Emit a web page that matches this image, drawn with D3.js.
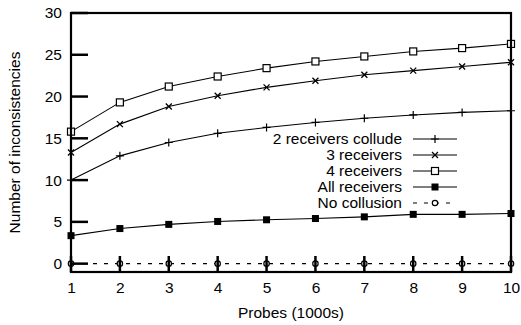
<!DOCTYPE html>
<html>
<head>
<meta charset="utf-8">
<script src="https://cdn.jsdelivr.net/npm/d3@7"></script>
<style>
  html, body { margin: 0; padding: 0; background: #fff; }
  text { font-family: "Liberation Sans", Arial, sans-serif; fill: #000; }
</style>
</head>
<body>
<svg id="chart" width="521" height="325"></svg>
<script>
// Probe counts (thousands)
const probes = [1, 2, 3, 4, 5, 6, 7, 8, 9, 10];

// Inconsistencies detected per collusion scenario
const twoCollude   = [10.0, 12.9, 14.5, 15.6, 16.3, 16.9, 17.4, 17.8, 18.1, 18.3];
const threeRecv    = [13.3, 16.7, 18.8, 20.1, 21.1, 21.9, 22.6, 23.1, 23.6, 24.1];
const fourRecv     = [15.8, 19.3, 21.2, 22.4, 23.4, 24.2, 24.8, 25.4, 25.8, 26.3];
const allRecv      = [3.35, 4.2, 4.7, 5.05, 5.25, 5.4, 5.6, 5.9, 5.9, 6.0];
const noCollusion  = [0, 0, 0, 0, 0, 0, 0, 0, 0, 0];

const seriesNames = ["2 receivers collude", "3 receivers", "4 receivers", "All receivers", "No collusion"];
const xTicks = [1, 2, 3, 4, 5, 6, 7, 8, 9, 10];
const yTicks = [0, 5, 10, 15, 20, 25, 30];

const series = [
  { name: seriesNames[0], values: twoCollude,  marker: "plus",   dash: null },
  { name: seriesNames[1], values: threeRecv,   marker: "cross",  dash: null },
  { name: seriesNames[2], values: fourRecv,    marker: "square", dash: null },
  { name: seriesNames[3], values: allRecv,     marker: "filled", dash: null },
  { name: seriesNames[4], values: noCollusion, marker: "circle", dash: "4,7" }
];

const FS = 15.5;
const svg = d3.select("#chart");
const mLeft = 71, mRight = 511, mTop = 13, mBottom = 272;

const x = d3.scaleLinear().domain([1, 10]).range([mLeft, mRight]);
const y = d3.scaleLinear().domain([-1, 30]).range([mBottom, mTop]);

// Tick labels (tick marks are drawn later, on top of the data)
const xAxis = d3.axisBottom(x).tickValues(xTicks).tickSize(0).tickPadding(10).tickFormat(d3.format("d"));
const yAxis = d3.axisLeft(y).tickValues(yTicks).tickSize(0).tickPadding(9).tickFormat(d3.format("d"));

const gx = svg.append("g").attr("transform", `translate(0,${mBottom})`).call(xAxis);
const gy = svg.append("g").attr("transform", `translate(${mLeft},0)`).call(yAxis);
[gx, gy].forEach(g => {
  g.select(".domain").remove();
  g.selectAll(".tick line").remove();
  g.selectAll(".tick text").attr("font-size", FS).attr("font-family", "Liberation Sans, Arial, sans-serif");
});
gx.selectAll(".tick text").attr("dy", "0.71em");

// Series lines
const line = d3.line().x((d, i) => x(probes[i])).y(d => y(d));

function drawMarker(g, type, cx, cy) {
  if (type === "plus") {
    g.append("path").attr("d", `M${cx - 4},${cy}H${cx + 4}M${cx},${cy - 4}V${cy + 4}`)
      .attr("stroke", "#000").attr("stroke-width", 1.2);
  } else if (type === "cross") {
    g.append("path").attr("d", `M${cx - 3},${cy - 3}L${cx + 3},${cy + 3}M${cx - 3},${cy + 3}L${cx + 3},${cy - 3}`)
      .attr("stroke", "#000").attr("stroke-width", 1.3);
  } else if (type === "square") {
    g.append("rect").attr("x", cx - 3.5).attr("y", cy - 3.5).attr("width", 7).attr("height", 7)
      .attr("fill", "#fff").attr("stroke", "#000").attr("stroke-width", 1.2);
  } else if (type === "filled") {
    g.append("rect").attr("x", cx - 3.5).attr("y", cy - 3.5).attr("width", 7).attr("height", 7)
      .attr("fill", "#000");
  } else if (type === "circle") {
    g.append("circle").attr("cx", cx).attr("cy", cy).attr("r", 2.7)
      .attr("fill", "#fff").attr("stroke", "#000").attr("stroke-width", 1.2);
  }
}

const plot = svg.append("g");
series.forEach(s => {
  plot.append("path").datum(s.values).attr("d", line)
    .attr("fill", "none").attr("stroke", "#000").attr("stroke-width", 1.1)
    .attr("stroke-dasharray", s.dash);
});
series.forEach(s => {
  const g = plot.append("g");
  s.values.forEach((v, i) => drawMarker(g, s.marker, x(probes[i]), y(v)));
});

// Inward tick marks on the left and bottom edges
const ticks = svg.append("g");
xTicks.forEach(d => {
  ticks.append("line")
    .attr("x1", x(d)).attr("x2", x(d))
    .attr("y1", mBottom).attr("y2", mBottom - 16)
    .attr("stroke", "#000").attr("stroke-width", 2.5);
});
yTicks.forEach(d => {
  ticks.append("line")
    .attr("x1", mLeft).attr("x2", mLeft + 17)
    .attr("y1", y(d)).attr("y2", y(d))
    .attr("stroke", "#000").attr("stroke-width", 2.5);
});

// Frame
svg.append("rect").attr("x", mLeft).attr("y", mTop).attr("width", mRight - mLeft).attr("height", mBottom - mTop)
  .attr("fill", "none").attr("stroke", "#000").attr("stroke-width", 2.2);

// Legend
const legend = svg.append("g");
series.forEach((s, i) => {
  const ly = 139 + i * 16;
  legend.append("text").attr("x", 402).attr("y", ly).attr("dy", "0.35em")
    .attr("text-anchor", "end").attr("font-size", FS).text(s.name);
  legend.append("line").attr("x1", 413).attr("x2", 457).attr("y1", ly).attr("y2", ly)
    .attr("stroke", "#000").attr("stroke-width", 1.1).attr("stroke-dasharray", s.dash);
  drawMarker(legend, s.marker, 435, ly);
});

// Axis titles
svg.append("text").attr("x", 291).attr("y", 313).attr("dy", "0.35em")
  .attr("text-anchor", "middle").attr("font-size", FS).text("Probes (1000s)");
svg.append("text").attr("transform", "translate(15,142.5) rotate(-90)").attr("dy", "0.35em")
  .attr("text-anchor", "middle").attr("font-size", FS).text("Number of inconsistencies");
</script>
</body>
</html>
